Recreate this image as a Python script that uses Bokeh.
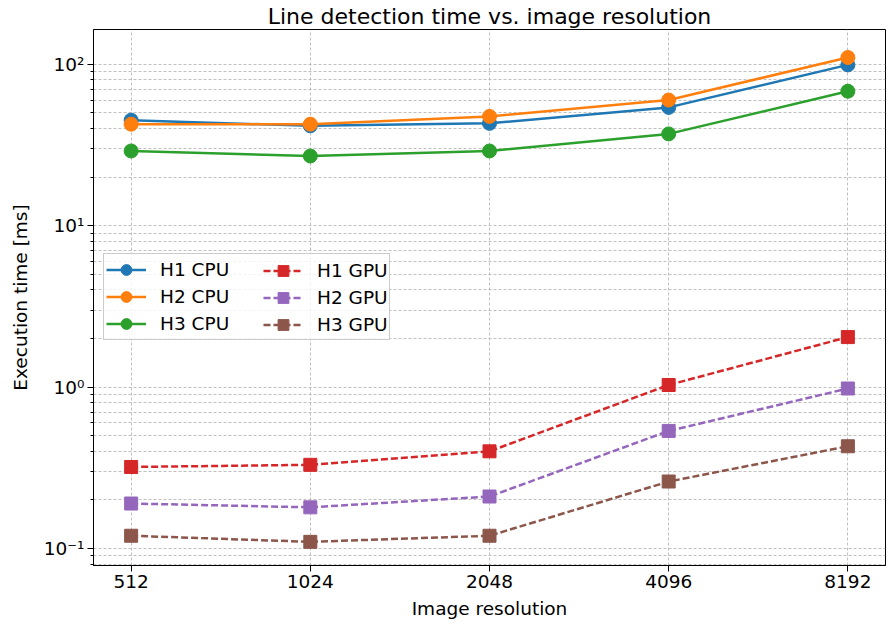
from bokeh.plotting import figure
from bokeh.models import FixedTicker, Range1d, Legend, LegendItem
from bokeh.embed import file_html
from bokeh.resources import INLINE

resolutions = [512, 1024, 2048, 4096, 8192]
x_labels = ["512", "1024", "2048", "4096", "8192"]

h1_cpu = [45, 41.5, 43, 54, 99]
h2_cpu = [42.5, 42.5, 47.5, 60, 110]
h3_cpu = [29, 27, 29, 37, 68]
h1_gpu = [0.32, 0.33, 0.40, 1.03, 2.04]
h2_gpu = [0.19, 0.18, 0.21, 0.535, 0.98]
h3_gpu = [0.12, 0.11, 0.12, 0.26, 0.43]

FONT = "DejaVu Sans"
FS = "18.5px"

p = figure(width=889, height=625, x_axis_type="log", y_axis_type="log",
           output_backend="svg", toolbar_location=None,
           x_range=Range1d(512 * 2 ** -0.21, 8192 * 2 ** 0.21),
           y_range=Range1d(0.0785, 164),
           title="Line detection time vs. image resolution",
           min_border_left=93, min_border_right=4, min_border_top=28, min_border_bottom=60)

p.title.align = "center"
p.title.text_font = FONT
p.title.text_font_size = "22px"
p.title.text_font_style = "normal"
p.title.text_color = "black"
p.title.offset = 0
p.title.standoff = 2

p.outline_line_color = "black"
p.outline_line_width = 1
p.background_fill_color = "white"
p.border_fill_color = "white"

# axes
p.xaxis.ticker = FixedTicker(ticks=resolutions)
p.xaxis.major_label_overrides = {v: l for v, l in zip(resolutions, x_labels)}
p.xaxis.axis_label = "Image resolution"

minor = []
for d in [0.01, 0.1, 1, 10, 100]:
    for k in range(2, 10):
        minor.append(d * k)
p.yaxis.ticker = FixedTicker(ticks=[0.1, 1, 10, 100], minor_ticks=minor)
p.yaxis.major_label_overrides = {0.1: "10⁻¹", 1: "10⁰", 10: "10¹", 100: "10²"}
p.yaxis.axis_label = "Execution time [ms]"

for ax in [p.xaxis[0], p.yaxis[0]]:
    ax.axis_label_text_font = FONT
    ax.axis_label_text_font_size = FS
    ax.axis_label_text_font_style = "normal"
    ax.axis_label_text_color = "black"
    ax.major_label_text_font = FONT
    ax.major_label_text_font_size = FS
    ax.major_label_text_color = "black"
    ax.axis_line_color = "black"
    ax.major_tick_line_color = "black"
    ax.minor_tick_line_color = "black"
    ax.major_tick_out = 6
    ax.major_tick_in = 0
    ax.minor_tick_out = 3
    ax.minor_tick_in = 0
    ax.major_label_standoff = 3
p.xaxis.minor_tick_line_color = None
p.yaxis.axis_label_standoff = 10
p.xaxis.axis_label_standoff = 7

# grids
for g in [p.xgrid[0], p.ygrid[0]]:
    g.grid_line_color = "#b0b0b0"
    g.grid_line_dash = "3 2"
    g.grid_line_width = 0.8
p.ygrid.minor_grid_line_color = "#b0b0b0"
p.ygrid.minor_grid_line_dash = "3 2"
p.ygrid.minor_grid_line_width = 0.8

series = [
    ("H1 CPU", h1_cpu, "#1f77b4", "circle", "solid"),
    ("H2 CPU", h2_cpu, "#ff7f0e", "circle", "solid"),
    ("H3 CPU", h3_cpu, "#2ca02c", "circle", "solid"),
    ("H1 GPU", h1_gpu, "#d62728", "square", "dashed"),
    ("H2 GPU", h2_gpu, "#9467bd", "square", "dashed"),
    ("H3 GPU", h3_gpu, "#8c564b", "square", "dashed"),
]

items = []
for name, vals, color, marker, dash in series:
    ln = p.line(resolutions, vals, line_color=color, line_width=2.5,
                line_dash="7 3" if dash == "dashed" else "solid")
    sc = p.scatter(resolutions, vals, marker=marker, size=14 if marker == "circle" else 13,
                   fill_color=color, line_color=color)
    items.append(LegendItem(label=name, renderers=[ln, sc]))

common = dict(label_text_font=FONT, label_text_font_size=FS, label_text_color="black",
              glyph_width=40, glyph_height=27, label_height=22, spacing=0,
              padding=2, margin=0, label_standoff=14)

leg_cpu = Legend(items=items[:3], location=(10, 225),
                 border_line_color="#cccccc", border_line_alpha=1,
                 background_fill_color="white", background_fill_alpha=0.8,
                 label_width=227, **common)
leg_gpu = Legend(items=items[3:], location=(168, 225),
                 border_line_alpha=0, background_fill_alpha=0,
                 label_width=70, **common)
p.add_layout(leg_cpu, "center")
p.add_layout(leg_gpu, "center")

open("out.html", "w").write(file_html(p, INLINE))
